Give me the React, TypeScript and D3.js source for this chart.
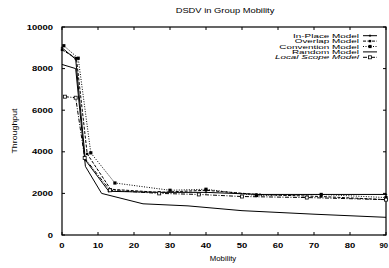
import React from "react";
import * as d3 from "d3";

const title = "DSDV in Group Mobility";
const xTicks = [0, 10, 20, 30, 40, 50, 60, 70, 80, 90];
const yTicks = [0, 2000, 4000, 6000, 8000, 10000];

const inPlaceX = [0, 3.8, 6.5, 13, 27, 40, 55, 72, 90];
const inPlaceY = [9000, 8450, 3600, 2100, 2050, 2050, 1950, 1950, 1950];
const overlapX = [0, 4, 7, 13.5, 27, 40, 54, 72, 90];
const overlapY = [8900, 8500, 3900, 2200, 2050, 2150, 1950, 1850, 1700];
const conventionX = [0.5, 4.5, 8, 14.7, 30, 40, 54, 72, 90];
const conventionY = [9100, 8500, 3950, 2500, 2150, 2200, 1900, 1950, 1800];
const randomX = [0, 3.8, 6.5, 11, 22.5, 35, 50, 70, 90];
const randomY = [8200, 8000, 3300, 2000, 1500, 1400, 1170, 1000, 850];
const localX = [0.8, 3.8, 6.3, 13.3, 27, 38, 50, 68, 90];
const localY = [6650, 6600, 3700, 2150, 2000, 1950, 1850, 1800, 1700];

type Series = { name: string; xs: number[]; ys: number[]; dash: string; marker: string; italic?: boolean };
const series: Series[] = [
  { name: "In-Place Model", xs: inPlaceX, ys: inPlaceY, dash: "", marker: "plus" },
  { name: "Overlap Model", xs: overlapX, ys: overlapY, dash: "3,1.5", marker: "sq" },
  { name: "Convention Model", xs: conventionX, ys: conventionY, dash: "1,1.5", marker: "fill" },
  { name: "Random Model", xs: randomX, ys: randomY, dash: "", marker: "none" },
  { name: "Local Scope Model", xs: localX, ys: localY, dash: "4,1.5,1,1.5", marker: "open", italic: true },
];

function Marker({ type, x, y }: { type: string; x: number; y: number }) {
  if (type === "plus")
    return <path d={`M${x - 1.2},${y}H${x + 1.2}M${x},${y - 1.2}V${y + 1.2}`} stroke="#000" strokeWidth={0.9} />;
  if (type === "sq") return <rect x={x - 1.2} y={y - 1.2} width={2.4} height={2.4} fill="#000" />;
  if (type === "fill") return <rect x={x - 1.6} y={y - 1.6} width={3.2} height={3.2} fill="#000" />;
  if (type === "open")
    return <rect x={x - 1.5} y={y - 1.5} width={3} height={3} fill="#fff" stroke="#000" strokeWidth={0.8} />;
  return null;
}

function SText({ x, y, sx, size, anchor, children, weight, italic }: any) {
  return (
    <g transform={`translate(${x},${y}) scale(${sx},1)`}>
      <text x={0} y={0} fontSize={size} textAnchor={anchor} fontWeight={weight || "normal"} fontStyle={italic ? "italic" : "normal"}>
        {children}
      </text>
    </g>
  );
}

export default function App() {
  const W = 389, H = 268;
  const x = d3.scaleLinear().domain([0, 90]).range([62, 386]);
  const y = d3.scaleLinear().domain([0, 10000]).range([235, 27]);
  const font = "'Liberation Sans', Arial, sans-serif";
  const line = d3.line<[number, number]>().x((d) => x(d[0])).y((d) => y(d[1]));
  return (
    <svg width={W} height={H} style={{ position: "absolute", left: 0, top: 0, background: "#fff" }} fontFamily={font}>
      <rect width={W} height={H} fill="#fff" />
      <SText x={225} y={13} sx={1.3} size={7.2} anchor="middle">{title}</SText>
      <rect x={x(0)} y={y(10000)} width={x(90) - x(0)} height={y(0) - y(10000)} fill="none" stroke="#000" strokeWidth={1.2} />
      {yTicks.map((t) => (
        <g key={"y" + t}>
          <line x1={x(0)} x2={x(0) + 3} y1={y(t)} y2={y(t)} stroke="#000" />
          <line x1={x(90)} x2={x(90) - 3} y1={y(t)} y2={y(t)} stroke="#000" />
          <SText x={53} y={y(t) + 2.5} sx={1.35} size={7} anchor="end" weight="bold">{t}</SText>
        </g>
      ))}
      {xTicks.map((t, i) => {
        const last = i === xTicks.length - 1;
        return (
          <g key={"x" + t}>
            <line x1={x(t)} x2={x(t)} y1={y(0)} y2={y(0) - 3} stroke="#000" />
            <line x1={x(t)} x2={x(t)} y1={y(10000)} y2={y(10000) + 3} stroke="#000" />
            <SText x={last ? 388 : x(t)} y={248} sx={last ? 1.1 : 1.35} size={7} anchor={last ? "end" : "middle"} weight="bold">{t}</SText>
          </g>
        );
      })}
      <SText x={223} y={261} sx={1.15} size={6.8} anchor="middle">Mobility</SText>
      <g transform="translate(17,131) rotate(-90) scale(1.3,1)">
        <text x={0} y={0} fontSize={6.8} textAnchor="middle">Throughput</text>
      </g>
      {series.map((s) => {
        const pts = s.xs.map((v, i) => [v, s.ys[i]] as [number, number]);
        return (
          <g key={s.name}>
            <path d={line(pts) || ""} fill="none" stroke="#000" strokeWidth={1} strokeDasharray={s.dash} />
            {pts.map((p, i) => <Marker key={i} type={s.marker} x={x(p[0])} y={y(p[1])} />)}
          </g>
        );
      })}
      {series.map((s, i) => {
        const ly = 35.7 + i * 5.4;
        return (
          <g key={"l" + s.name}>
            <SText x={359} y={ly + 2} sx={1.65} size={6} anchor="end" italic={s.italic}>{s.name}</SText>
            <line x1={363} x2={377} y1={ly} y2={ly} stroke="#000" strokeWidth={1} strokeDasharray={s.dash} />
            <Marker type={s.marker} x={370} y={ly} />
          </g>
        );
      })}
    </svg>
  );
}
